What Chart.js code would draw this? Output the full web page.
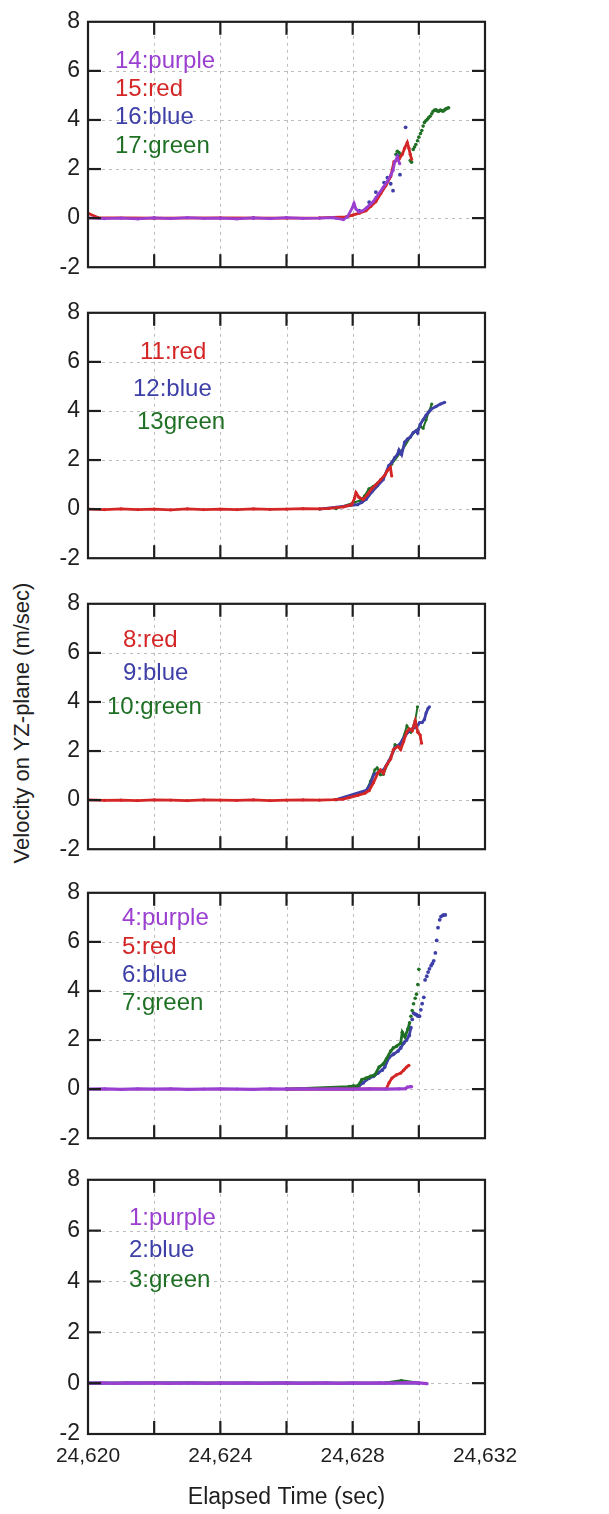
<!DOCTYPE html>
<html>
<head>
<meta charset="utf-8">
<script src="https://cdn.jsdelivr.net/npm/chart.js@4/dist/chart.umd.min.js"></script>
<style>
  html, body { margin: 0; padding: 0; background: #ffffff; }
  body { width: 609px; height: 1514px; position: relative; overflow: hidden; font-family: "Liberation Sans", Arial, sans-serif; }
  .panel { position: absolute; left: 0; width: 609px; }
  #ytitle { position: absolute; width: 420px; height: 26px; line-height: 26px; left: -188px; top: 710px;
            text-align: center; font-size: 22px; color: #222; transform: rotate(-90deg); transform-origin: 50% 50%; white-space: nowrap; }
</style>
</head>
<body>
<div id="ytitle">Velocity on YZ-plane (m/sec)</div>
<div class="panel" style="top:0px;height:289px"><canvas id="c1"></canvas></div>
<div class="panel" style="top:291px;height:289px"><canvas id="c2"></canvas></div>
<div class="panel" style="top:582px;height:289px"><canvas id="c3"></canvas></div>
<div class="panel" style="top:871px;height:289px"><canvas id="c4"></canvas></div>
<div class="panel" style="top:1158px;height:356px"><canvas id="c5"></canvas></div>
<script>
// ---------------- data ----------------
const xMin = 24620, xMax = 24632, xStep = 2;
const xTickLabels = [24620, 24624, 24628, 24632];
const yMin = -2, yMax = 8, yStep = 2;
const xTitle = 'Elapsed Time (sec)';

const panel1Labels = ['14:purple', '15:red', '16:blue', '17:green'];
const panel2Labels = ['11:red', '12:blue', '13green'];
const panel3Labels = ['8:red', '9:blue', '10:green'];
const panel4Labels = ['4:purple', '5:red', '6:blue', '7:green'];
const panel5Labels = ['1:purple', '2:blue', '3:green'];

// panel 1
const s14 = [[24620,0.01],[24620.5,-0.02],[24621,0.0],[24621.5,-0.03],[24622,0.01],[24622.5,-0.02],[24623,0.02],[24623.5,-0.01],[24624,0.0],[24624.5,-0.03],[24625,0.01],[24625.5,-0.02],[24626,0.02],[24626.5,-0.01],[24627,0.0],[24627.4,0.02],[24627.72,-0.06],[24627.84,0.05],[24628.0,0.45],[24628.04,0.6],[24628.1,0.37],[24628.19,0.25],[24628.3,0.3],[24628.41,0.41],[24628.52,0.55],[24628.62,0.67],[24628.71,0.85],[24628.79,1.0],[24628.92,1.25],[24629.05,1.5],[24629.16,1.77],[24629.22,1.95],[24629.27,2.28],[24629.35,2.48],[24629.42,2.22]];
const s15 = [[24620,0.2],[24620.3,0.02],[24622,0.0],[24624,0.01],[24626,0.0],[24627,0.01],[24627.8,0.05],[24628.0,0.12],[24628.2,0.2],[24628.4,0.3],[24628.55,0.48],[24628.7,0.67],[24628.85,1.0],[24629.0,1.32],[24629.15,1.7],[24629.25,2.3],[24629.4,2.4],[24629.5,2.6],[24629.57,2.85],[24629.65,3.08],[24629.7,2.85],[24629.74,2.6],[24629.78,2.4]];
const s16 = [[24622,0.0],[24625,0.01],[24627.5,0.01],[24628.2,0.3],[24628.5,0.65],[24628.7,1.06],[24628.95,1.45],[24629.05,1.65],[24629.15,1.4],[24629.22,1.12],[24629.35,2.55],[24629.43,1.77],[24629.6,3.7]];
const s17 = [[24629.31,2.6],[24629.35,2.72],[24629.4,2.67],[24629.45,2.55],[24629.48,2.6],[24629.74,2.35],[24629.78,2.28],[24629.83,2.8],[24629.87,2.9],[24629.91,3.0],[24629.96,3.15],[24630.0,3.3],[24630.05,3.45],[24630.09,3.57],[24630.13,3.75],[24630.17,3.9],[24630.22,3.98],[24630.26,4.03],[24630.3,4.1],[24630.34,4.15],[24630.39,4.25],[24630.43,4.35],[24630.48,4.4],[24630.52,4.41],[24630.56,4.37],[24630.6,4.35],[24630.65,4.4],[24630.69,4.38],[24630.73,4.36],[24630.78,4.41],[24630.82,4.45],[24630.86,4.48],[24630.9,4.5]];

// panel 2
const s11 = [[24620,0.0],[24620.5,-0.02],[24621,0.01],[24621.5,-0.02],[24622,0.0],[24622.5,-0.03],[24623,0.01],[24623.5,-0.02],[24624,0.0],[24624.5,-0.02],[24625,0.01],[24625.5,-0.01],[24626,0.0],[24626.5,0.02],[24627,0.01],[24627.28,0.03],[24627.72,0.09],[24627.97,0.18],[24628.06,0.45],[24628.1,0.67],[24628.19,0.48],[24628.32,0.39],[24628.45,0.6],[24628.58,0.83],[24628.71,1.0],[24628.84,1.19],[24628.97,1.38],[24629.05,1.57],[24629.14,1.7],[24629.18,1.35]];
const s12 = [[24627,0.0],[24628.15,0.18],[24628.28,0.28],[24628.41,0.4],[24628.58,0.7],[24628.75,0.95],[24628.92,1.2],[24629.09,1.77],[24629.18,1.9],[24629.27,2.1],[24629.35,2.22],[24629.4,2.41],[24629.48,2.22],[24629.57,2.73],[24629.66,2.86],[24629.74,2.93],[24629.83,3.12],[24629.91,3.19],[24629.96,3.1],[24630.04,3.45],[24630.13,3.64],[24630.22,3.83],[24630.3,3.96],[24630.39,4.09],[24630.52,4.18],[24630.65,4.28],[24630.78,4.35]];
const s13 = [[24627.5,0.02],[24628.06,0.28],[24628.23,0.35],[24628.36,0.54],[24628.49,0.83],[24628.62,0.93],[24628.75,1.06],[24628.92,1.25],[24629.09,1.7],[24629.18,1.83],[24629.5,2.4],[24629.75,2.95],[24630.04,3.38],[24630.13,3.3],[24630.22,3.64],[24630.3,3.96],[24630.39,4.28]];

// panel 3
const s8 = [[24620,0.01],[24620.5,-0.01],[24621,0.0],[24621.5,-0.02],[24622,0.01],[24622.5,0.0],[24623,-0.02],[24623.5,0.01],[24624,0.0],[24624.5,-0.01],[24625,0.01],[24625.5,-0.02],[24626,0.0],[24626.5,0.01],[24627,0.0],[24627.45,0.02],[24627.71,0.04],[24627.89,0.1],[24628.15,0.19],[24628.37,0.28],[24628.5,0.39],[24628.63,0.71],[24628.76,1.1],[24628.84,1.23],[24628.93,1.1],[24629.02,1.42],[24629.15,1.68],[24629.23,2.06],[24629.37,2.19],[24629.45,2.06],[24629.54,2.39],[24629.63,2.77],[24629.71,2.9],[24629.8,2.83],[24629.89,3.23],[24629.97,2.77],[24630.04,2.65],[24630.08,2.32]];
const s9 = [[24627.5,0.02],[24628.41,0.4],[24628.54,0.65],[24628.63,1.03],[24628.8,1.16],[24628.93,1.23],[24629.1,1.61],[24629.28,2.13],[24629.41,2.26],[24629.54,2.52],[24629.67,2.77],[24629.8,2.9],[24629.93,2.97],[24630.02,3.16],[24630.1,3.16],[24630.17,3.29],[24630.22,3.55],[24630.28,3.74],[24630.32,3.8]];
const s10 = [[24627.5,0.02],[24628.4,0.35],[24628.54,0.77],[24628.67,1.23],[24628.74,1.32],[24628.84,1.03],[24628.93,1.05],[24629.06,1.48],[24629.17,1.8],[24629.28,2.26],[24629.41,2.2],[24629.5,2.45],[24629.64,3.03],[24629.76,2.77],[24629.89,3.23],[24629.96,3.8]];

// panel 4
const s4 = [[24620,0.0],[24620.5,0.01],[24621,-0.01],[24621.5,0.01],[24622,0.0],[24622.5,0.01],[24623,-0.01],[24623.5,0.0],[24624,0.01],[24624.5,0.0],[24625,-0.01],[24625.5,0.01],[24626,0.0],[24626.5,0.01],[24627,0.0],[24627.5,0.01],[24628,0.0],[24628.5,0.01],[24629,0.0],[24629.4,0.01],[24629.6,0.02],[24629.65,0.08],[24629.75,0.1],[24629.78,0.1]];
const s5 = [[24626,0.0],[24628,0.0],[24629.02,0.02],[24629.1,0.26],[24629.19,0.45],[24629.32,0.58],[24629.45,0.65],[24629.54,0.77],[24629.63,0.9],[24629.7,0.97]];
const s6 = [[24626,0.0],[24628.06,0.06],[24628.19,0.13],[24628.32,0.26],[24628.5,0.45],[24628.63,0.52],[24628.76,0.65],[24628.89,0.77],[24628.97,0.9],[24629.1,1.29],[24629.23,1.42],[24629.37,1.55],[24629.45,1.68],[24629.54,1.87],[24629.63,2.0],[24629.71,2.19],[24629.76,2.5],[24629.8,2.84],[24629.84,3.1],[24629.89,3.05],[24629.93,3.03],[24629.97,2.98],[24630.02,2.97],[24630.06,3.23],[24630.1,3.48],[24630.15,3.74],[24630.19,4.45],[24630.24,4.6],[24630.28,4.77],[24630.32,4.9],[24630.37,5.03],[24630.41,5.12],[24630.45,5.23],[24630.5,5.55],[24630.54,6.06],[24630.58,6.58],[24630.63,6.9],[24630.67,7.03],[24630.72,7.08],[24630.76,7.1],[24630.8,7.1]];
const s7 = [[24626,0.0],[24627.89,0.1],[24628.02,0.13],[24628.15,0.13],[24628.28,0.39],[24628.41,0.45],[24628.54,0.52],[24628.67,0.58],[24628.8,0.9],[24628.93,1.03],[24629.02,1.23],[24629.15,1.55],[24629.23,1.68],[24629.32,1.74],[24629.45,1.87],[24629.5,2.32],[24629.58,2.13],[24629.67,2.45],[24629.72,2.7],[24629.76,2.97],[24629.8,3.2],[24629.84,3.48],[24629.89,3.7],[24629.93,3.87],[24629.97,4.26],[24630.0,4.88]];

// panel 5
const s1 = [[24620,0.0],[24620.4,0.01],[24620.8,-0.01],[24621.2,0.01],[24621.6,0.0],[24622,0.01],[24622.4,-0.01],[24622.8,0.0],[24623.2,0.01],[24623.6,-0.01],[24624,0.01],[24624.4,0.0],[24624.8,0.01],[24625.2,-0.01],[24625.6,0.0],[24626,0.01],[24626.4,-0.01],[24626.8,0.0],[24627.2,0.01],[24627.6,-0.01],[24628,0.01],[24628.4,0.0],[24628.8,0.01],[24629.2,0.0],[24629.6,0.02],[24630,0.01],[24630.25,-0.02]];
const s2 = [[24620,0.0],[24622,0.01],[24624,0.0],[24626,0.01],[24628,0.0],[24630,0.0]];
const s3 = [[24620,0.0],[24623,0.01],[24626,0.0],[24629,0.01],[24629.47,0.1],[24630,0.0]];

// ---------------- style ----------------
const PURPLE = '#9a3fd0', RED = '#d42626', BLUE = '#3e40a8', GREEN = '#1f7024';
const INK = '#1e1e1e';
const FONT = '"Liberation Sans", Arial, sans-serif';

function ds(data, color, o) {
  o = o || {};
  const cut = o.dotFrom;
  return {
    data: data.map(p => ({x: p[0], y: p[1]})),
    borderColor: color,
    backgroundColor: color,
    borderWidth: o.width === undefined ? 2.8 : o.width,
    showLine: o.line !== false,
    pointRadius: o.r === undefined ? 1.6 : o.r,
    pointBorderWidth: 0,
    pointBackgroundColor: color,
    tension: 0,
    segment: cut === undefined ? undefined : {
      borderColor: c => (c.p0.parsed.x >= cut ? 'rgba(0,0,0,0)' : undefined)
    }
  };
}

const framePlugin = {
  id: 'frame',
  beforeDatasetsDraw(chart) {
    const {ctx, chartArea: a, scales: {x, y}} = chart;
    ctx.save();
    ctx.strokeStyle = '#bdbdbd';
    ctx.lineWidth = 1;
    ctx.setLineDash([3, 4]);
    x.ticks.forEach(t => {
      if (t.value <= xMin || t.value >= xMax) return;
      const px = Math.round(x.getPixelForValue(t.value)) + 0.5;
      ctx.beginPath(); ctx.moveTo(px, a.top); ctx.lineTo(px, a.bottom); ctx.stroke();
    });
    y.ticks.forEach(t => {
      if (t.value <= yMin || t.value >= yMax) return;
      const py = Math.round(y.getPixelForValue(t.value)) + 0.5;
      ctx.beginPath(); ctx.moveTo(a.left, py); ctx.lineTo(a.right, py); ctx.stroke();
    });
    ctx.restore();
  },
  afterDatasetsDraw(chart) {
    const {ctx, chartArea: a, scales: {x, y}} = chart;
    const L = 13;
    ctx.save();
    ctx.strokeStyle = INK;
    ctx.lineWidth = 2.2;
    ctx.setLineDash([]);
    x.ticks.forEach(t => {
      if (t.value <= xMin || t.value >= xMax) return;
      const px = x.getPixelForValue(t.value);
      ctx.beginPath(); ctx.moveTo(px, a.top); ctx.lineTo(px, a.top + L); ctx.stroke();
      ctx.beginPath(); ctx.moveTo(px, a.bottom); ctx.lineTo(px, a.bottom - L); ctx.stroke();
    });
    y.ticks.forEach(t => {
      if (t.value <= yMin || t.value >= yMax) return;
      const py = y.getPixelForValue(t.value);
      ctx.beginPath(); ctx.moveTo(a.left, py); ctx.lineTo(a.left + L, py); ctx.stroke();
      ctx.beginPath(); ctx.moveTo(a.right, py); ctx.lineTo(a.right - L, py); ctx.stroke();
    });
    ctx.strokeRect(a.left, a.top, a.right - a.left, a.bottom - a.top);
    ctx.restore();
  },
  afterDraw(chart) {
    const cfg = chart.options.plugins.panelText;
    if (!cfg) return;
    const {ctx, chartArea: a} = chart;
    ctx.save();
    ctx.font = cfg.size + 'px ' + FONT;
    ctx.textBaseline = 'alphabetic';
    ctx.textAlign = 'left';
    cfg.items.forEach(it => {
      ctx.fillStyle = it.color;
      ctx.fillText(it.text, it.x, a.top + it.dy);
    });
    ctx.restore();
  }
};

function makePanel(id, datasets, labels, colors, pos, bottom) {
  const items = labels.map((t, i) => ({text: t, color: colors[i], x: pos.x[i], dy: pos.dy[i]}));
  return new Chart(document.getElementById(id), {
    type: 'line',
    data: {datasets: datasets},
    plugins: [framePlugin],
    options: {
      responsive: true,
      maintainAspectRatio: false,
      animation: false,
      events: [],
      layout: {padding: {left: 0, right: 124, top: 14, bottom: bottom ? 0 : 14}},
      plugins: {
        legend: {display: false},
        tooltip: {enabled: false},
        panelText: {size: 24, items: items}
      },
      scales: {
        x: {
          type: 'linear', min: xMin, max: xMax,
          display: bottom ? true : false,
          grid: {display: false, drawTicks: false},
          border: {display: false},
          ticks: {
            stepSize: xStep, autoSkip: false, maxRotation: 0, minRotation: 0,
            padding: 10, color: INK, font: {size: 21, family: FONT},
            callback: v => (xTickLabels.includes(v) ? v.toLocaleString('en-US') : '')
          },
          title: {display: !!bottom, text: xTitle, color: INK, font: {size: 23, family: FONT}, padding: {top: 0, bottom: 3}},
          afterFit: s => { s.height = bottom ? 80 : 0; }
        },
        y: {
          type: 'linear', min: yMin, max: yMax,
          grid: {display: false, drawTicks: false},
          border: {display: false},
          ticks: {stepSize: yStep, padding: 8, color: INK, font: {size: 23, family: FONT}},
          afterFit: s => { s.width = 88; }
        }
      }
    }
  });
}

makePanel('c1',
  [ds(s14, PURPLE), ds(s15, RED), ds(s16, BLUE, {line: false, r: 1.9}), ds(s17, GREEN, {line: false, r: 1.8})],
  panel1Labels, [PURPLE, RED, BLUE, GREEN],
  {x: [115, 115, 115, 115], dy: [46, 74, 102.5, 131]}, false);

makePanel('c2',
  [ds(s11, RED), ds(s12, BLUE), ds(s13, GREEN, {width: 2})],
  panel2Labels, [RED, BLUE, GREEN],
  {x: [140, 133, 137], dy: [46, 83, 116]}, false);

makePanel('c3',
  [ds(s8, RED), ds(s9, BLUE), ds(s10, GREEN, {width: 2})],
  panel3Labels, [RED, BLUE, GREEN],
  {x: [123, 123, 107], dy: [43.5, 76.5, 110]}, false);

makePanel('c4',
  [ds(s4, PURPLE, {width: 3.2}), ds(s5, RED), ds(s7, GREEN, {dotFrom: 24629.7, r: 1.8}), ds(s6, BLUE, {dotFrom: 24629.72, r: 1.9})],
  panel4Labels, [PURPLE, RED, BLUE, GREEN],
  {x: [122, 122, 122, 122], dy: [32, 61, 89, 117]}, false);

makePanel('c5',
  [ds(s1, PURPLE, {width: 3.2}), ds(s2, BLUE), ds(s3, GREEN)],
  panel5Labels, [PURPLE, BLUE, GREEN],
  {x: [129, 129, 129], dy: [45, 77, 107]}, true);
</script>
